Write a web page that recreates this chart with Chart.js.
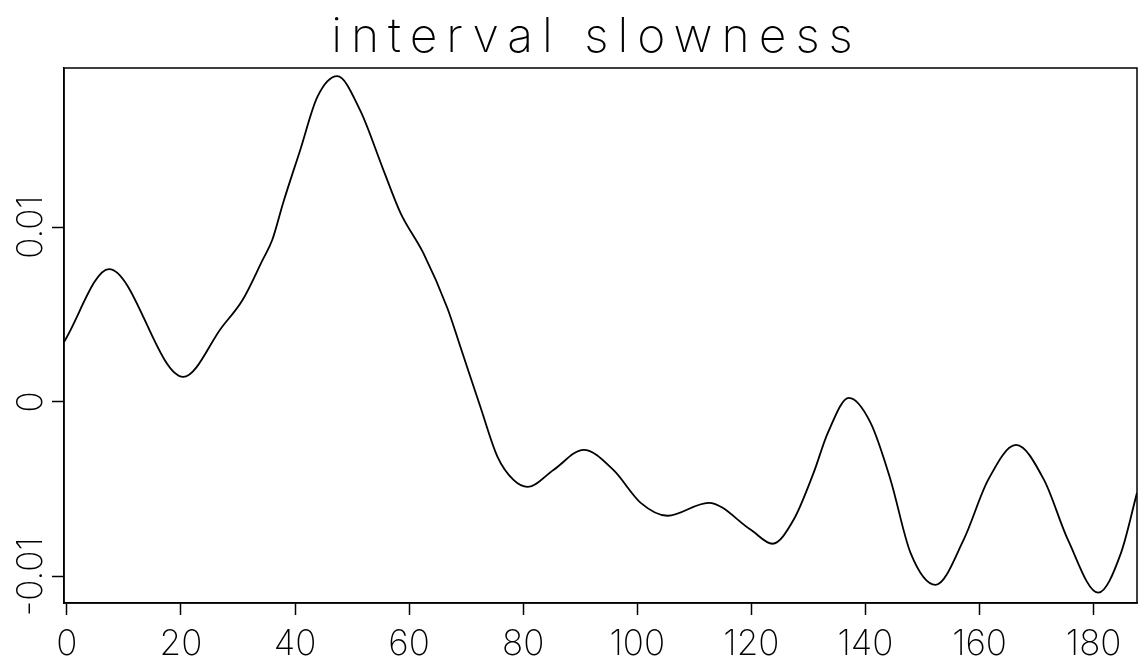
<!DOCTYPE html>
<html>
<head>
<meta charset="utf-8">
<script src="https://cdn.jsdelivr.net/npm/chart.js@4/dist/chart.umd.min.js"></script>
<style>
    html, body { margin: 0; padding: 0; background: #fff; }
    #wrap { width: 1138px; height: 664px; }
</style>
</head>
<body>
<div id="wrap"><canvas id="slowness"></canvas></div>
<script>
const title = 'interval slowness';

const depth = [-0.5, 7.4, 20.4, 27.2, 30.8, 34.3, 36, 37.9, 40.9, 43.9, 47.4, 51.4, 55.5,
    58.5, 62.5, 66.7, 69, 72.5, 75.5, 78.3, 80.8, 85.3, 90.6, 95.8, 100.6, 105.3, 112.5,
    119.9, 123.7, 127.4, 130.9, 133.4, 137.1, 140.9, 144.4, 147.9, 152.3, 157.2, 161.5,
    166.4, 171.3, 175.5, 180.8, 184.8, 187.6];
const slowness = [0.00343, 0.0076, 0.00143, 0.00429, 0.00583, 0.00811, 0.00926, 0.01137,
    0.0144, 0.01743, 0.01863, 0.01669, 0.01326, 0.0108, 0.00851, 0.00537, 0.00314,
    -0.00029, -0.00314, -0.00446, -0.00486, -0.00389, -0.00274, -0.00389, -0.00577,
    -0.00651, -0.00577, -0.00731, -0.00811, -0.00674, -0.00406, -0.00177, 0.00023,
    -0.0012, -0.00446, -0.00863, -0.01046, -0.00789, -0.00446, -0.00246, -0.00446,
    -0.00789, -0.01091, -0.00863, -0.0052];

const xTicks = [0, 20, 40, 60, 80, 100, 120, 140, 160, 180];
const yTicks = [-0.01, 0, 0.01];
const yLabels = ['-0.01', '0', '0.01'];

const fontFamily = 'Inter, "DejaVu Sans", sans-serif';

const frame = {
    id: 'frame',
    beforeDraw(chart) {
        chart.ctx.letterSpacing = '0px';
    },
    afterDraw(chart) {
        const ctx = chart.ctx;
        const area = chart.chartArea;
        const y = chart.scales.y;

        ctx.save();
        ctx.strokeStyle = '#000';
        ctx.lineWidth = 1.5;
        ctx.strokeRect(area.left, area.top, area.right - area.left, area.bottom - area.top);

        ctx.fillStyle = '#000';
        ctx.font = '200 35px ' + fontFamily;
        ctx.textAlign = 'center';
        ctx.textBaseline = 'alphabetic';
        yTicks.forEach((v, i) => {
            ctx.save();
            ctx.translate(42, y.getPixelForValue(v));
            ctx.rotate(-Math.PI / 2);
            ctx.fillText(yLabels[i], 0, 0);
            ctx.restore();
        });

        ctx.font = '200 48px ' + fontFamily;
        ctx.letterSpacing = '9px';
        ctx.fillText(title, (area.left + area.right) / 2 - 4, 52);
        ctx.restore();
    }
};

const canvas = document.querySelector('#slowness');
const chart = new Chart(canvas.getContext('2d'), {
    type: 'line',
    data: {
        datasets: [{
            label: title,
            data: depth.map((d, i) => ({ x: d, y: slowness[i] })),
            borderColor: '#000',
            borderWidth: 1.8,
            pointRadius: 0,
            fill: false,
            cubicInterpolationMode: 'monotone'
        }]
    },
    options: {
        responsive: true,
        maintainAspectRatio: false,
        animation: false,
        layout: { padding: { top: 68, right: 1, left: 0, bottom: 0 } },
        plugins: {
            legend: { display: false },
            title: { display: false },
            tooltip: { enabled: false }
        },
        scales: {
            x: {
                type: 'linear',
                min: -0.5,
                max: 187.6,
                afterBuildTicks: scale => { scale.ticks = xTicks.map(v => ({ value: v })); },
                afterFit: scale => { scale.height = 61; },
                grid: { drawOnChartArea: false, tickLength: 12, tickColor: '#000', tickWidth: 1.5 },
                border: { color: '#000', width: 1.5 },
                ticks: {
                    color: '#000',
                    padding: 8,
                    maxRotation: 0,
                    font: { family: fontFamily, size: 35, weight: 200 }
                }
            },
            y: {
                type: 'linear',
                min: -0.0115,
                max: 0.0191,
                afterBuildTicks: scale => { scale.ticks = yTicks.map(v => ({ value: v })); },
                afterFit: scale => { scale.width = 64; },
                grid: { drawOnChartArea: false, tickLength: 12, tickColor: '#000', tickWidth: 1.5 },
                border: { color: '#000', width: 1.5 },
                ticks: { display: false }
            }
        }
    },
    plugins: [frame]
});
</script>
</body>
</html>
